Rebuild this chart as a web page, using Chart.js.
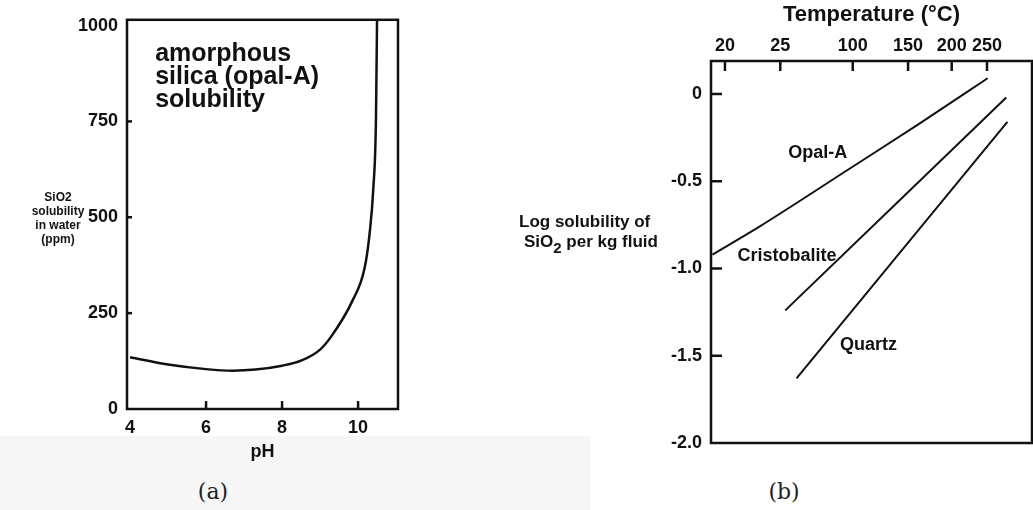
<!DOCTYPE html>
<html>
<head>
<meta charset="utf-8">
<script src="https://cdn.jsdelivr.net/npm/chart.js@4.4.1/dist/chart.umd.min.js"></script>
<style>
  html, body { margin: 0; padding: 0; background: #fff; }
  #page { position: relative; width: 1033px; height: 510px; overflow: hidden; }
  .band { position: absolute; left: 0; top: 436px; width: 590px; height: 74px; background: #f6f6f6; }
  .wrap { position: absolute; top: 0; height: 470px; }
  #wrapA { left: 0; width: 440px; }
  #wrapB { left: 480px; width: 553px; }
  .caption { position: absolute; top: 479px; font-family: "DejaVu Serif", serif; font-size: 22px; color: #222; transform: translateX(-50%); }
</style>
</head>
<body>
<div id="page">
  <div class="band"></div>
  <div class="wrap" id="wrapA"><canvas id="chartA" width="440" height="470"></canvas></div>
  <div class="wrap" id="wrapB"><canvas id="chartB" width="553" height="470"></canvas></div>
  <div class="caption" style="left:213px">(a)</div>
  <div class="caption" style="left:784px">(b)</div>
</div>
<script>
// (a) amorphous silica solubility vs pH
const phValues = [4, 5, 6, 6.7, 7.3, 8, 8.5, 9, 9.3, 9.85, 10.17, 10.3, 10.4, 10.47, 10.5];
const silicaPpm = [135, 116, 104, 100, 103, 113, 126, 155, 190, 282, 367, 455, 574, 755, 1030];
const phTicks = [4, 6, 8, 10];
const ppmTicks = [0, 250, 500, 750, 1000];

// (b) log solubility vs temperature (axis is 1000/T, T in kelvin)
const tempTicks = [20, 50, 100, 150, 200, 250];
const tempTickLabels = ['20', '25', '100', '150', '200', '250']; // printed as "25" in the figure
const logTicks = [0, -0.5, -1.0, -1.5, -2.0];
const opalTemp = [14, 38, 95, 162, 251];
const opalLog = [-0.92, -0.76, -0.44, -0.17, 0.09];
const cristTemp = [53, 282];
const cristLog = [-1.24, -0.02];
const quartzTemp = [60, 284];
const quartzLog = [-1.63, -0.16];

(function () {
  const INK = '#111';
  const FONT = '"Liberation Sans", Arial, sans-serif';
  const invT = t => 1000 / (t + 273.15);

  // inward tick marks + closed frame round the plot area
  function frameTicks(o) {
    return {
      id: 'frameTicks',
      afterDatasetsDraw(chart) {
        const { ctx, chartArea: a } = chart;
        const xs = chart.scales.x, ys = chart.scales.y;
        ctx.save();
        ctx.strokeStyle = INK;
        ctx.lineWidth = 2.5;
        xs.ticks.forEach(t => {
          const px = xs.getPixelForValue(t.value);
          if (px - a.left < 8 || a.right - px < 8) return;
          ctx.beginPath();
          if (o.xTop) { ctx.moveTo(px, a.top); ctx.lineTo(px, a.top + o.xLen); }
          else { ctx.moveTo(px, a.bottom); ctx.lineTo(px, a.bottom - o.xLen); }
          ctx.stroke();
        });
        ys.ticks.forEach(t => {
          const py = ys.getPixelForValue(t.value);
          if (py - a.top < 8 || a.bottom - py < 8) return;
          ctx.beginPath();
          ctx.moveTo(a.left, py); ctx.lineTo(a.left + o.yLen, py);
          ctx.stroke();
        });
        ctx.strokeRect(a.left, a.top, a.right - a.left, a.bottom - a.top);
        ctx.restore();
      }
    };
  }

  // free text: either canvas pixels or data coordinates
  function figureText(items) {
    return {
      id: 'figureText',
      afterDraw(chart) {
        const ctx = chart.ctx;
        items.forEach(it => {
          let x = it.x, y = it.y;
          if (it.at) {
            x = chart.scales.x.getPixelForValue(it.at[0]);
            y = chart.scales.y.getPixelForValue(it.at[1]);
          }
          ctx.save();
          ctx.fillStyle = INK;
          ctx.font = it.font;
          ctx.textAlign = it.align || 'left';
          ctx.textBaseline = it.baseline || 'alphabetic';
          if (it.parts) {
            let cx = x;
            it.parts.forEach(p => {
              ctx.font = p.sub ? it.subFont : it.font;
              ctx.fillText(p.t, cx, y + (p.sub ? 6 : 0));
              cx += ctx.measureText(p.t).width;
            });
          } else {
            it.lines.forEach((ln, i) => ctx.fillText(ln, x, y + i * (it.lineHeight || 0)));
          }
          ctx.restore();
        });
      }
    };
  }

  const tickFont = { family: FONT, size: 18, weight: 'bold' };

  new Chart(document.getElementById('chartA'), {
    type: 'scatter',
    data: {
      datasets: [{
        data: phValues.map((v, i) => ({ x: v, y: silicaPpm[i] })),
        showLine: true, borderColor: INK, borderWidth: 2.5, pointRadius: 0,
        cubicInterpolationMode: 'monotone', clip: 0
      }]
    },
    options: {
      responsive: false, animation: false, events: [],
      layout: { padding: { left: 0, top: 16, right: 42, bottom: 0 } },
      plugins: { legend: { display: false }, tooltip: { enabled: false } },
      scales: {
        x: {
          type: 'linear', min: 3.92, max: 11.05,
          afterBuildTicks: s => { s.ticks = phTicks.map(v => ({ value: v })); },
          afterFit: s => { s.height = 61; },
          grid: { display: false, drawTicks: false }, border: { display: false },
          ticks: { padding: 8, color: INK, font: tickFont, maxRotation: 0, autoSkip: false, callback: v => String(v) },
          title: { display: true, text: 'pH', color: INK, font: { family: FONT, size: 18, weight: 'bold' }, padding: { top: 0, bottom: 7 } }
        },
        y: {
          type: 'linear', min: 0, max: 1015,
          afterBuildTicks: s => { s.ticks = ppmTicks.map(v => ({ value: v })); },
          afterFit: s => { s.width = 127; },
          grid: { display: false, drawTicks: false }, border: { display: false },
          ticks: { padding: 9, color: INK, font: tickFont, autoSkip: false, callback: v => String(v) }
        }
      }
    },
    plugins: [
      frameTicks({ xTop: false, xLen: 8, yLen: 5 }),
      figureText([
        { x: 58, y: 201, lines: ['SiO2', 'solubility', 'in water', '(ppm)'], lineHeight: 14,
          font: 'bold 12px ' + FONT, align: 'center' },
        { at: [4.66, 907], lines: ['amorphous', 'silica (opal-A)', 'solubility'], lineHeight: 23,
          font: 'bold 25px ' + FONT }
      ])
    ]
  });

  const line = (temps, logs) => ({
    data: temps.map((t, i) => ({ x: invT(t), y: logs[i] })),
    showLine: true, borderColor: INK, borderWidth: 2, pointRadius: 0,
    cubicInterpolationMode: 'monotone', clip: 0
  });

  new Chart(document.getElementById('chartB'), {
    type: 'scatter',
    data: { datasets: [line(opalTemp, opalLog), line(cristTemp, cristLog), line(quartzTemp, quartzLog)] },
    options: {
      responsive: false, animation: false, events: [],
      layout: { padding: { left: 0, top: 0, right: 1, bottom: 27 } },
      plugins: { legend: { display: false }, tooltip: { enabled: false } },
      scales: {
        x: {
          type: 'linear', position: 'top', reverse: true, min: 1.654, max: 3.491,
          afterBuildTicks: s => { s.ticks = tempTicks.map(t => ({ value: invT(t) })); },
          afterFit: s => { s.height = 61; },
          grid: { display: false, drawTicks: false }, border: { display: false },
          ticks: { padding: 4, color: INK, font: tickFont, maxRotation: 0, autoSkip: false,
                   callback: (v, i) => tempTickLabels[i] },
          title: { display: true, text: 'Temperature (\u00B0C)', color: INK, font: { family: FONT, size: 22, weight: 'bold' }, padding: { top: 2, bottom: 0 } }
        },
        y: {
          type: 'linear', min: -2.0, max: 0.189,
          afterBuildTicks: s => { s.ticks = logTicks.map(v => ({ value: v })); },
          afterFit: s => { s.width = 231; },
          grid: { display: false, drawTicks: false }, border: { display: false },
          ticks: { padding: 9, color: INK, font: tickFont, autoSkip: false,
                   callback: v => (v === 0 ? '0' : v.toFixed(1)) }
        }
      }
    },
    plugins: [
      frameTicks({ xTop: true, xLen: 10, yLen: 11 }),
      figureText([
        { x: 39, y: 227, lines: ['Log solubility of'], font: 'bold 17px ' + FONT },
        { x: 44, y: 247, parts: [{ t: 'SiO' }, { t: '2', sub: true }, { t: ' per kg fluid' }],
          font: 'bold 17px ' + FONT, subFont: 'bold 15px ' + FONT },
        { at: [invT(74), -0.34], lines: ['Opal-A'], font: 'bold 18px ' + FONT, align: 'center', baseline: 'middle' },
        { at: [invT(54), -0.93], lines: ['Cristobalite'], font: 'bold 18px ' + FONT, align: 'center', baseline: 'middle' },
        { at: [invT(113), -1.44], lines: ['Quartz'], font: 'bold 18px ' + FONT, align: 'center', baseline: 'middle' }
      ])
    ]
  });
})();
</script>
</body>
</html>
